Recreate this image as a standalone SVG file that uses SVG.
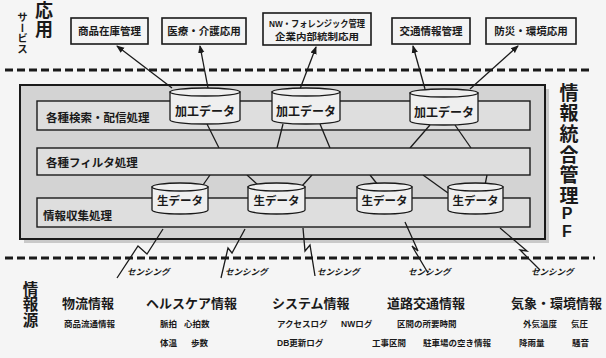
<svg xmlns="http://www.w3.org/2000/svg" width="606" height="358" viewBox="0 0 606 358">
<defs>
<style>
text{font-family:"Liberation Sans","Noto Sans CJK JP",sans-serif;fill:#1a1a1a;}
.b{font-weight:bold;}
.box{fill:#f4f4f4;stroke:#1a1a1a;stroke-width:1.6;}
.band{fill:#dedede;stroke:#1a1a1a;stroke-width:1.4;}
.cyl{fill:#efefef;stroke:#1a1a1a;stroke-width:1.3;}
.ln{fill:none;stroke:#1a1a1a;stroke-width:1.3;}
.dash{stroke:#1a1a1a;stroke-width:3;stroke-dasharray:8 4;}
.svc{font-size:10.5px;font-weight:bold;text-anchor:middle;}
.hd{font-size:13px;font-weight:bold;}
.sm{font-size:8.5px;font-weight:bold;}
.sen{font-size:8.5px;font-weight:bold;font-style:italic;}
.vert{writing-mode:vertical-rl;text-orientation:upright;font-weight:bold;}
</style>
<marker id="ah" markerWidth="8" markerHeight="8" refX="7" refY="4" orient="auto" markerUnits="userSpaceOnUse">
<path d="M0,0.8 L8,4 L0,7.2 Z" fill="#1a1a1a"/>
</marker>
</defs>
<rect width="606" height="358" fill="#f5f5f5"/>

<!-- side labels -->
<g id="label-app">
<text class="vert" x="42" y="1" style="font-size:18px;letter-spacing:1px">応用</text>
<text class="vert" x="22" y="12" style="font-size:10.5px">サービス</text>
</g>
<g id="label-pf">
<text class="vert" x="567" y="83" style="font-size:19px;letter-spacing:1.6px">情報統合管理</text>
<text class="vert" x="567" y="205" style="font-size:16px;letter-spacing:0.5px">PF</text>
</g>
<g id="label-src">
<text class="vert" x="29" y="281" style="font-size:15.5px;letter-spacing:0.3px">情報源</text>
</g>

<!-- dashed separators -->
<line class="dash" x1="5" y1="70" x2="592" y2="70"/>
<line class="dash" x1="5" y1="258" x2="595" y2="258"/>

<!-- service boxes -->
<g id="svc-stock"><rect class="box" x="71" y="18" width="77" height="26"/><text class="svc" x="109.5" y="35">商品在庫管理</text></g>
<g id="svc-medical"><rect class="box" x="162" y="18" width="84" height="26"/><text class="svc" x="204" y="35">医療・介護応用</text></g>
<g id="svc-nw"><rect class="box" x="263" y="13" width="108" height="32"/><text class="svc" x="317" y="27" style="font-size:9.5px" textLength="96" lengthAdjust="spacingAndGlyphs">NW・フォレンジック管理</text><text class="svc" x="317" y="40" style="font-size:9.5px" textLength="84" lengthAdjust="spacingAndGlyphs">企業内部統制応用</text></g>
<g id="svc-traffic"><rect class="box" x="392" y="18" width="78" height="26"/><text class="svc" x="431" y="35">交通情報管理</text></g>
<g id="svc-disaster"><rect class="box" x="486" y="18" width="90" height="26"/><text class="svc" x="531" y="35">防災・環境応用</text></g>

<!-- platform -->
<g id="pf">
<rect x="24" y="89" width="525" height="154" fill="#c9c9c9"/>
<rect x="20" y="85" width="525" height="154" fill="#d3d3d3" stroke="#1a1a1a" stroke-width="2"/>
</g>
<g id="band-search"><rect class="band" x="37" y="101" width="493" height="29"/><text class="b" x="46" y="122" style="font-size:11.5px">各種検索・配信処理</text></g>
<g id="band-collect"><rect class="band" x="37" y="198" width="493" height="29"/><text class="b" x="43" y="220" style="font-size:11.5px">情報収集処理</text></g>

<!-- connectors -->
<g id="connectors">
<line class="ln" x1="172" y1="88" x2="117" y2="46" marker-end="url(#ah)"/>
<line class="ln" x1="208" y1="88" x2="200" y2="46" marker-end="url(#ah)"/>
<line class="ln" x1="300" y1="89" x2="316" y2="47" marker-end="url(#ah)"/>
<line class="ln" x1="425" y1="89" x2="413" y2="46" marker-end="url(#ah)"/>
<line class="ln" x1="470" y1="89" x2="518" y2="46" marker-end="url(#ah)"/>
<line class="ln" x1="207" y1="124" x2="219" y2="148"/>
<line class="ln" x1="283" y1="124" x2="277" y2="148"/>
<line class="ln" x1="320" y1="124" x2="330" y2="148"/>
<line class="ln" x1="430" y1="125" x2="410" y2="148"/>
<line class="ln" x1="455" y1="125" x2="471" y2="148"/>
<line class="ln" x1="210" y1="175" x2="203" y2="185"/>
<line class="ln" x1="247" y1="175" x2="258" y2="185"/>
<line class="ln" x1="312" y1="175" x2="302" y2="186"/>
<line class="ln" x1="370" y1="175" x2="378" y2="185"/>
<line class="ln" x1="423" y1="175" x2="448" y2="193"/>
<line class="ln" x1="487" y1="175" x2="485" y2="185"/>
<polyline class="ln" points="163,229 147,254 138,246 117,278"/>
<polyline class="ln" points="245,229 232,253 228,248 221,278"/>
<polyline class="ln" points="303,228 305,251 310,245 315,276"/>
<polyline class="ln" points="405,222 418,251 412,246 428,273"/>
<polyline class="ln" points="500,228 527,251 520,250 540,270"/>
</g>

<g id="band-filter"><rect class="band" x="37" y="148" width="493" height="27"/><text class="b" x="46" y="167" style="font-size:11.5px">各種フィルタ処理</text></g>

<!-- processed data -->
<g id="proc1"><path class="cyl" d="M170,92 V120 A35,4 0 0 0 240,120 V92 Z"/><ellipse class="cyl" cx="205" cy="92" rx="35" ry="4"/><text class="b" x="205" y="116" text-anchor="middle" style="font-size:12px">加工データ</text></g>
<g id="proc2"><path class="cyl" d="M272,92 V120 A34,4 0 0 0 340,120 V92 Z"/><ellipse class="cyl" cx="306" cy="92" rx="34" ry="4"/><text class="b" x="306" y="116" text-anchor="middle" style="font-size:12px">加工データ</text></g>
<g id="proc3"><path class="cyl" d="M410,93 V121 A34,4 0 0 0 478,121 V93 Z"/><ellipse class="cyl" cx="444" cy="93" rx="34" ry="4"/><text class="b" x="444" y="117" text-anchor="middle" style="font-size:12px">加工データ</text></g>

<!-- raw data -->
<g id="raw1"><path class="cyl" d="M152,187 V210 A28,4 0 0 0 208,210 V187 Z"/><ellipse class="cyl" cx="180" cy="187" rx="28" ry="4"/><text class="b" x="180" y="205" text-anchor="middle" style="font-size:11.5px">生データ</text></g>
<g id="raw2"><path class="cyl" d="M248,187 V210 A28.5,4 0 0 0 305,210 V187 Z"/><ellipse class="cyl" cx="276.5" cy="187" rx="28.5" ry="4"/><text class="b" x="276.5" y="205" text-anchor="middle" style="font-size:11.5px">生データ</text></g>
<g id="raw3"><path class="cyl" d="M357,187 V210 A27.5,4 0 0 0 412,210 V187 Z"/><ellipse class="cyl" cx="384.5" cy="187" rx="27.5" ry="4"/><text class="b" x="384.5" y="205" text-anchor="middle" style="font-size:11.5px">生データ</text></g>
<g id="raw4"><path class="cyl" d="M448,187 V210 A27.5,4 0 0 0 503,210 V187 Z"/><ellipse class="cyl" cx="475.5" cy="187" rx="27.5" ry="4"/><text class="b" x="475.5" y="205" text-anchor="middle" style="font-size:11.5px">生データ</text></g>

<!-- sensing labels -->
<g id="sensing">
<text class="sen" x="127" y="275">センシング</text>
<text class="sen" x="225" y="275">センシング</text>
<text class="sen" x="317" y="275">センシング</text>
<text class="sen" x="408" y="275">センシング</text>
<text class="sen" x="531" y="275">センシング</text>
</g>

<!-- information sources -->
<g id="src-logistics"><text class="hd" x="62" y="308">物流情報</text><text class="sm" x="64" y="327">商品流通情報</text></g>
<g id="src-health"><text class="hd" x="146" y="308">ヘルスケア情報</text><text class="sm" x="160" y="327">脈拍</text><text class="sm" x="184" y="327">心拍数</text><text class="sm" x="160" y="346">体温</text><text class="sm" x="191" y="346">歩数</text></g>
<g id="src-system"><text class="hd" x="272" y="308">システム情報</text><text class="sm" x="277" y="327">アクセスログ</text><text class="sm" x="341" y="327">NWログ</text><text class="sm" x="277" y="346">DB更新ログ</text></g>
<g id="src-road"><text class="hd" x="387" y="308">道路交通情報</text><text class="sm" x="397" y="327">区間の所要時間</text><text class="sm" x="372" y="346">工事区間</text><text class="sm" x="423" y="346">駐車場の空き情報</text></g>
<g id="src-weather"><text class="hd" x="511" y="308">気象・環境情報</text><text class="sm" x="523" y="327">外気温度</text><text class="sm" x="571" y="327">気圧</text><text class="sm" x="519" y="346">降雨量</text><text class="sm" x="572" y="346">騒音</text></g>
</svg>
